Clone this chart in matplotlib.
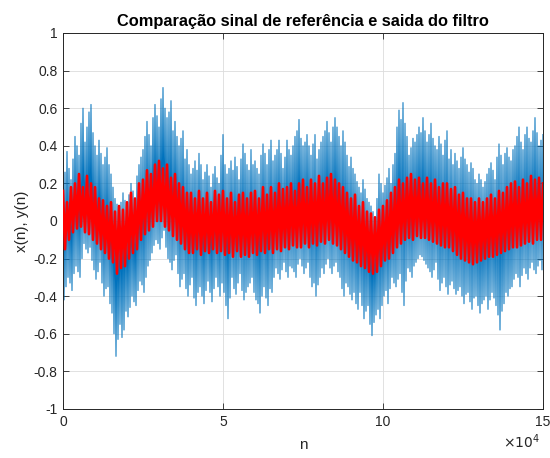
import numpy as np
import matplotlib
matplotlib.use("Agg")
import matplotlib.pyplot as plt

# ---- data ----
# blue x(n): spike tops every 625 samples, spike bottoms offset by 312.5 samples
blue_upper = [0.30, 0.26, 0.37, 0.28, 0.22, 0.33, 0.45, 0.40, 0.35, 0.52,
              0.60, 0.42, 0.50, 0.58, 0.62, 0.47, 0.40, 0.35, 0.43, 0.36,
              0.30, 0.34, 0.39, 0.30, 0.25, 0.18, 0.12, 0.09, 0.05, 0.10,
              0.15, 0.11, 0.08, 0.14, 0.20, 0.16, 0.12, 0.24, 0.30, 0.34,
              0.38, 0.45, 0.53, 0.46, 0.40, 0.55, 0.62, 0.56, 0.50, 0.65,
              0.71, 0.60, 0.55, 0.58, 0.64, 0.48, 0.53, 0.45, 0.40, 0.44,
              0.48, 0.33, 0.38, 0.30, 0.25, 0.28, 0.32, 0.27, 0.36, 0.30,
              0.22, 0.26, 0.30, 0.24, 0.18, 0.25, 0.29, 0.23, 0.20, 0.35,
              0.46, 0.30, 0.25, 0.28, 0.32, 0.27, 0.34, 0.29, 0.22, 0.33,
              0.41, 0.36, 0.30, 0.27, 0.38, 0.30, 0.32, 0.28, 0.25, 0.35,
              0.41, 0.36, 0.30, 0.38, 0.43, 0.32, 0.35, 0.38, 0.43, 0.36,
              0.28, 0.34, 0.43, 0.38, 0.35, 0.40, 0.45, 0.48, 0.54, 0.44,
              0.40, 0.42, 0.46, 0.40, 0.35, 0.41, 0.46, 0.33, 0.38, 0.42,
              0.45, 0.48, 0.53, 0.47, 0.42, 0.50, 0.55, 0.50, 0.45, 0.40,
              0.48, 0.42, 0.35, 0.29, 0.34, 0.28, 0.25, 0.21, 0.18, 0.15,
              0.22, 0.17, 0.12, 0.10, 0.08, 0.05, 0.02, 0.12, 0.25, 0.20,
              0.15, 0.19, 0.23, 0.28, 0.20, 0.30, 0.36, 0.50, 0.59, 0.54,
              0.63, 0.52, 0.45, 0.35, 0.39, 0.44, 0.42, 0.46, 0.50, 0.47,
              0.55, 0.48, 0.42, 0.46, 0.52, 0.44, 0.40, 0.38, 0.45, 0.41,
              0.35, 0.43, 0.48, 0.33, 0.38, 0.30, 0.36, 0.32, 0.28, 0.34,
              0.39, 0.33, 0.30, 0.26, 0.31, 0.28, 0.22, 0.20, 0.25, 0.22,
              0.18, 0.21, 0.25, 0.28, 0.31, 0.27, 0.22, 0.34, 0.41, 0.35,
              0.30, 0.36, 0.39, 0.34, 0.32, 0.38, 0.40, 0.45, 0.50, 0.42,
              0.38, 0.46, 0.50, 0.44, 0.42, 0.48, 0.55, 0.47, 0.40, 0.43,
              0.46]
blue_lower = [-0.42, -0.35, -0.30, -0.33, -0.37, -0.28, -0.24, -0.27, -0.30, -0.20,
              -0.12, -0.15, -0.17, -0.14, -0.21, -0.26, -0.31, -0.27, -0.22, -0.33,
              -0.40, -0.36, -0.35, -0.44, -0.49, -0.60, -0.72, -0.63, -0.55, -0.62,
              -0.58, -0.48, -0.51, -0.46, -0.40, -0.43, -0.45, -0.37, -0.32, -0.34,
              -0.38, -0.30, -0.24, -0.21, -0.17, -0.13, -0.10, -0.12, -0.15, -0.09,
              -0.05, -0.14, -0.20, -0.22, -0.26, -0.21, -0.18, -0.28, -0.35, -0.31,
              -0.28, -0.36, -0.40, -0.34, -0.30, -0.41, -0.45, -0.38, -0.35, -0.40,
              -0.44, -0.37, -0.32, -0.38, -0.43, -0.36, -0.30, -0.35, -0.40, -0.33,
              -0.38, -0.45, -0.52, -0.41, -0.30, -0.36, -0.39, -0.33, -0.28, -0.37,
              -0.42, -0.38, -0.35, -0.33, -0.30, -0.38, -0.42, -0.44, -0.49, -0.40,
              -0.35, -0.41, -0.45, -0.36, -0.38, -0.30, -0.25, -0.28, -0.31, -0.26,
              -0.22, -0.27, -0.30, -0.24, -0.25, -0.27, -0.30, -0.23, -0.20, -0.24,
              -0.28, -0.25, -0.22, -0.30, -0.35, -0.33, -0.40, -0.34, -0.30, -0.25,
              -0.28, -0.23, -0.20, -0.25, -0.28, -0.24, -0.22, -0.27, -0.30, -0.36,
              -0.40, -0.33, -0.35, -0.39, -0.42, -0.38, -0.44, -0.47, -0.38, -0.45,
              -0.52, -0.48, -0.45, -0.55, -0.61, -0.54, -0.50, -0.47, -0.52, -0.45,
              -0.40, -0.37, -0.44, -0.36, -0.30, -0.33, -0.35, -0.31, -0.28, -0.38,
              -0.45, -0.32, -0.25, -0.27, -0.30, -0.24, -0.22, -0.20, -0.18, -0.19,
              -0.21, -0.23, -0.25, -0.27, -0.30, -0.26, -0.22, -0.31, -0.37, -0.33,
              -0.30, -0.35, -0.39, -0.34, -0.32, -0.36, -0.39, -0.37, -0.35, -0.40,
              -0.44, -0.39, -0.38, -0.43, -0.47, -0.41, -0.40, -0.45, -0.49, -0.44,
              -0.42, -0.40, -0.47, -0.42, -0.38, -0.41, -0.45, -0.50, -0.58, -0.48,
              -0.44, -0.38, -0.40, -0.36, -0.35, -0.31, -0.28, -0.30, -0.35, -0.29,
              -0.25, -0.28, -0.31, -0.25, -0.22, -0.26, -0.28, -0.24, -0.21, -0.26]
# red y(n): spike tops every 1250 samples, spike bottoms offset by 625 samples
red_upper = [0.16, 0.10, 0.18, 0.20, 0.25, 0.18, 0.24, 0.20, 0.18,
             0.12, 0.11, 0.08, 0.10, 0.05, 0.08, 0.06, 0.10,
             0.15, 0.12, 0.20, 0.22, 0.27, 0.25, 0.30, 0.32,
             0.28, 0.30, 0.23, 0.25, 0.20, 0.18, 0.15, 0.15,
             0.12, 0.16, 0.12, 0.15, 0.10, 0.16, 0.14, 0.16,
             0.12, 0.15, 0.10, 0.14, 0.15, 0.12, 0.15, 0.16,
             0.12, 0.18, 0.14, 0.18, 0.15, 0.20, 0.17, 0.18,
             0.20, 0.16, 0.20, 0.22, 0.18, 0.22, 0.20, 0.24,
             0.20, 0.23, 0.25, 0.22, 0.20, 0.18, 0.15, 0.12,
             0.14, 0.08, 0.10, 0.05, 0.04, 0.02, 0.06, 0.08,
             0.11, 0.15, 0.18, 0.22, 0.20, 0.23, 0.25, 0.22,
             0.23, 0.20, 0.23, 0.20, 0.22, 0.18, 0.20, 0.20,
             0.17, 0.18, 0.14, 0.15, 0.12, 0.12, 0.10, 0.12,
             0.10, 0.12, 0.14, 0.12, 0.16, 0.15, 0.18, 0.20,
             0.21, 0.18, 0.22, 0.20, 0.24, 0.22, 0.23, 0.20]
red_lower = [-0.15, -0.10, -0.06, -0.04, -0.03, -0.06, -0.07, -0.10,
             -0.12, -0.15, -0.17, -0.20, -0.22, -0.28, -0.25, -0.24,
             -0.20, -0.17, -0.15, -0.10, -0.07, -0.05, -0.03, 0.00,
             0.00, -0.03, -0.05, -0.08, -0.10, -0.12, -0.15, -0.17,
             -0.17, -0.15, -0.18, -0.16, -0.17, -0.15, -0.17, -0.16,
             -0.18, -0.17, -0.19, -0.16, -0.19, -0.18, -0.19, -0.17,
             -0.18, -0.16, -0.17, -0.15, -0.17, -0.15, -0.16, -0.14,
             -0.15, -0.13, -0.14, -0.14, -0.12, -0.14, -0.12, -0.13,
             -0.11, -0.12, -0.10, -0.12, -0.13, -0.15, -0.17, -0.19,
             -0.21, -0.22, -0.24, -0.25, -0.27, -0.28, -0.27, -0.24,
             -0.21, -0.20, -0.17, -0.14, -0.12, -0.10, -0.09, -0.10,
             -0.08, -0.09, -0.09, -0.10, -0.11, -0.12, -0.13, -0.14,
             -0.14, -0.16, -0.18, -0.20, -0.21, -0.22, -0.23, -0.22,
             -0.21, -0.20, -0.19, -0.19, -0.18, -0.17, -0.16, -0.15,
             -0.14, -0.14, -0.13, -0.12, -0.11, -0.12, -0.10, -0.10]

x_ticks = [0, 50000, 100000, 150000]
x_tick_labels = ["0", "5", "10", "15"]
y_ticks = [-1, -0.8, -0.6, -0.4, -0.2, 0, 0.2, 0.4, 0.6, 0.8, 1]
y_tick_labels = ["-1", "-0.8", "-0.6", "-0.4", "-0.2", "0", "0.2", "0.4", "0.6", "0.8", "1"]


def zigzag(upper, lower, step):
    xu = np.arange(len(upper)) * step
    xl = np.arange(len(lower)) * step + step / 2
    x = np.concatenate([xu, xl])
    y = np.concatenate([upper, lower])
    order = np.argsort(x, kind="stable")
    return x[order], y[order]


plt.rcParams['font.family'] = ['Liberation Sans', 'DejaVu Sans']
fig = plt.figure(figsize=(5.5, 4.58), dpi=100)
ax = fig.add_axes([63 / 550, 1 - 409 / 458, 480 / 550, 376 / 458])

bx, by = zigzag(blue_upper, blue_lower, 625)
rx, ry = zigzag(red_upper, red_lower, 1250)
ax.plot(bx, by, color='#0072BD', lw=0.75, zorder=2)
ax.plot(rx, ry, color='#FF0000', lw=1.9, zorder=3)

ax.set_xlim(0, 150000)
ax.set_ylim(-1, 1)
ax.set_xticks(x_ticks)
ax.set_xticklabels(x_tick_labels)
ax.set_yticks(y_ticks)
ax.set_yticklabels(y_tick_labels)
ax.tick_params(direction='in', top=True, right=True, length=4, width=0.6,
               colors='#262626', labelsize=10, pad=4)
ax.grid(True, color='#DCDCDC', lw=0.6, zorder=0)
ax.set_axisbelow(True)
for s in ax.spines.values():
    s.set_color('#262626')
    s.set_linewidth(0.7)

ax.set_title('Comparação sinal de referência e saida do filtro', fontsize=11.8,
             fontweight='bold', color='black', pad=5)
ax.set_xlabel('n', fontsize=11, color='#262626', labelpad=7)
ax.set_ylabel('x(n), y(n)', fontsize=11, color='#262626', labelpad=3)
fig.text(540 / 550, 1 - 448 / 458, r'$\times 10^{4}$', ha='right', va='baseline',
         fontsize=10, color='#262626')

fig.savefig('out.png', dpi=100, facecolor='white')
